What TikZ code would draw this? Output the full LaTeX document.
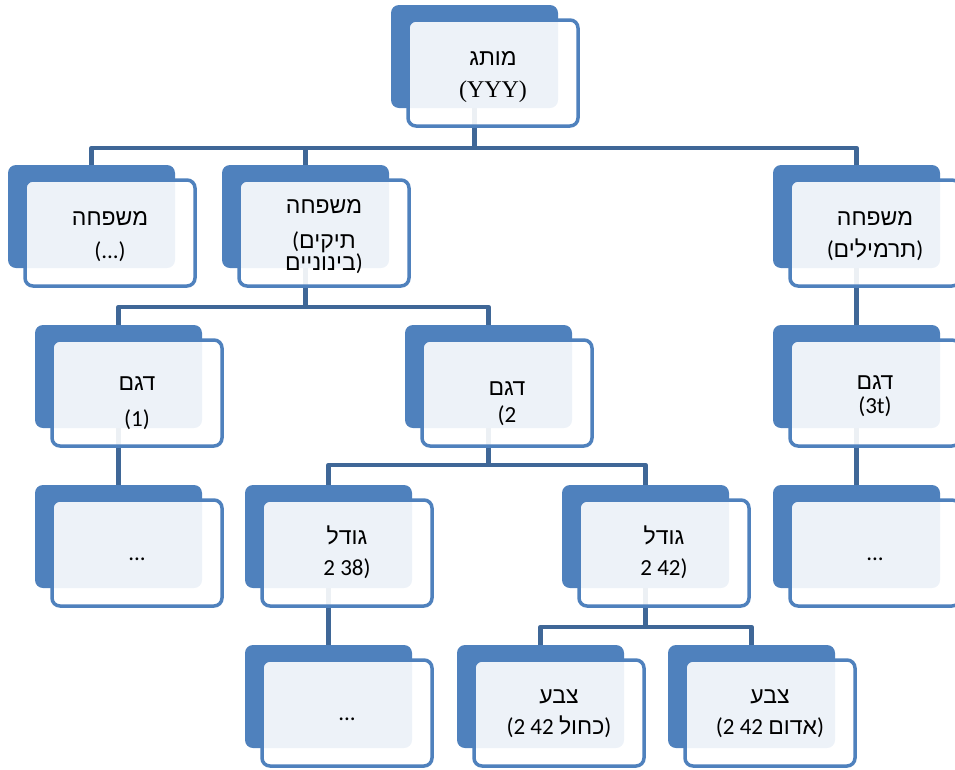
\documentclass[tikz,border=0pt]{standalone}
\usepackage{fontspec}
\setmainfont{Carlito}
\newfontfamily\hebfont[Script=Hebrew]{Liberation Sans}
\newfontfamily\latserif{Liberation Serif}
\TeXXeTstate=1
\newcommand\heb[1]{{\hebfont\beginR #1\endR}}

\definecolor{accent}{HTML}{4F81BD}
\definecolor{linkblue}{HTML}{3F6797}

\tikzset{
  backbox/.style={fill=accent, rounded corners=8pt, inner sep=0pt, outer sep=0pt,
                  minimum width=167pt, minimum height=103pt},
  frontbox/.style={draw=accent, line width=3.5pt, fill=white, fill opacity=0.9,
                   rounded corners=8pt, inner sep=0pt, outer sep=0pt,
                   minimum width=170pt, minimum height=106pt},
  link/.style={draw=linkblue, line width=4.5pt, line join=round},
  txt/.style={anchor=base, inner sep=0pt, font=\fontsize{23}{27}\selectfont},
}

% back plate of a box: name, left x, top y
\newcommand\backplate[3]{\node[backbox] (#1-b) at (#2+83.5,#3+51.5) {};}
% front card of a box: name, left x, top y
\newcommand\frontcard[3]{\node[frontbox] (#1) at (#2+102,#3+68) {};}
% one text line: name, left x, baseline y, text
\newcommand\cardline[4]{\node[txt] (#1) at (#2+102,#3) {#4};}

\begin{document}
\begin{tikzpicture}[x=1pt,y=-1pt]
\useasboundingbox (0,0) rectangle (955,769);

% back plates
\backplate{root}{391}{5}
\backplate{fam1}{8}{165}
\backplate{fam2}{222}{165}
\backplate{fam3}{773}{165}
\backplate{gen1}{35}{325}
\backplate{gen2}{405}{325}
\backplate{gen3}{773}{325}
\backplate{leafa}{35}{485}
\backplate{size1}{245}{485}
\backplate{size2}{562}{485}
\backplate{leafb}{773}{485}
\backplate{leafc}{245}{645}
\backplate{col1}{457}{645}
\backplate{col2}{668}{645}

% connectors
\draw[link] (root-b.south) -- ++(0,40) -| (fam1-b.north);
\draw[link] (root-b.south) -- ++(0,40) -| (fam2-b.north);
\draw[link] (root-b.south) -- ++(0,40) -| (fam3-b.north);
\draw[link] (fam2-b.south) -- ++(0,39) -| (gen1-b.north);
\draw[link] (fam2-b.south) -- ++(0,39) -| (gen2-b.north);
\draw[link] (fam3-b.south) -- (gen3-b.north);
\draw[link] (gen1-b.south) -- (leafa-b.north);
\draw[link] (gen2-b.south) -- ++(0,37) -| (size1-b.north);
\draw[link] (gen2-b.south) -- ++(0,37) -| (size2-b.north);
\draw[link] (gen3-b.south) -- (leafb-b.north);
\draw[link] (size1-b.south) -- (leafc-b.north);
\draw[link] (size2-b.south) -- ++(0,39) -| (col1-b.north);
\draw[link] (size2-b.south) -- ++(0,39) -| (col2-b.north);

% front cards
\frontcard{root}{391}{5}
\frontcard{fam1}{8}{165}
\frontcard{fam2}{222}{165}
\frontcard{fam3}{773}{165}
\frontcard{gen1}{35}{325}
\frontcard{gen2}{405}{325}
\frontcard{gen3}{773}{325}
\frontcard{leafa}{35}{485}
\frontcard{size1}{245}{485}
\frontcard{size2}{562}{485}
\frontcard{leafb}{773}{485}
\frontcard{leafc}{245}{645}
\frontcard{col1}{457}{645}
\frontcard{col2}{668}{645}

% labels
\cardline{root-1}{391}{65}{\heb{מותג}}
\cardline{root-2}{391}{97}{\latserif\fontsize{24}{28}\selectfont (YYY)}
\cardline{fam1-1}{8}{225}{\heb{משפחה}}
\cardline{fam1-2}{8}{258}{(...)}
\cardline{fam2-1}{222}{213}{\heb{משפחה}}
\cardline{fam2-2}{222}{248}{(\heb{תיקים}}
\cardline{fam2-3}{222}{270}{\heb{בינוניים})}
\cardline{fam3-1}{773}{225}{\heb{משפחה}}
\cardline{fam3-2}{773}{257}{(\heb{תרמילים})}
\cardline{gen1-1}{35}{390}{\heb{דגם}}
\cardline{gen1-2}{35}{426}{(1)}
\cardline{gen2-1}{405}{395}{\heb{דגם}}
\cardline{gen2-2}{405}{422}{(2}
\cardline{gen3-1}{773}{389}{\heb{דגם}}
\cardline{gen3-2}{773}{413}{(3t)}
\cardline{leafa-1}{35}{560}{...}
\cardline{size1-1}{245}{544}{\heb{גודל}}
\cardline{size1-2}{245}{575}{2 38)}
\cardline{size2-1}{562}{544}{\heb{גודל}}
\cardline{size2-2}{562}{575}{2 42)}
\cardline{leafb-1}{773}{560}{...}
\cardline{leafc-1}{245}{720}{...}
\cardline{col1-1}{457}{703}{\heb{צבע}}
\cardline{col1-2}{457}{734}{(2 42 \heb{כחול})}
\cardline{col2-1}{668}{703}{\heb{צבע}}
\cardline{col2-2}{668}{734}{(2 42 \heb{אדום})}
\end{tikzpicture}
\end{document}
